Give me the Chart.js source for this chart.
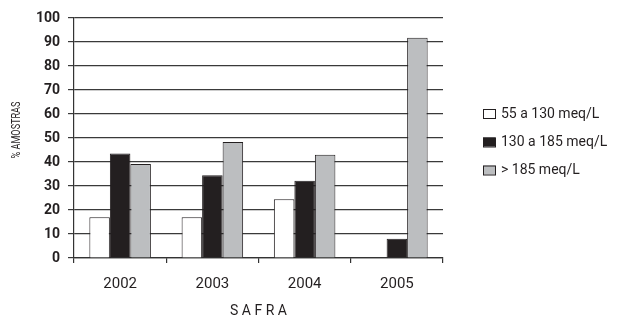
<!DOCTYPE html>
<html>
<head>
<meta charset="utf-8">
<script src="https://cdn.jsdelivr.net/npm/chart.js@4/dist/chart.umd.min.js"></script>
<style>
html,body{margin:0;padding:0;background:#fff;}
#wrap{width:617px;height:320px;}
</style>
</head>
<body>
<div id="wrap"><canvas id="c" width="617" height="320"></canvas></div>
<script>
const categories = ['2002', '2003', '2004', '2005'];
const seriesLabels = ['55 a 130 meq/L', '130 a 185 meq/L', '> 185 meq/L'];
const low = [17, 17, 24.5, 0];
const mid = [43.5, 34.5, 32.2, 8];
const high = [39.2, 48.3, 43, 91.8];
const yTicks = [0, 10, 20, 30, 40, 50, 60, 70, 80, 90, 100];
const xTitle = 'S A F R A';
const yTitle = '% AMOSTRAS';

const ink = '#231f20';
const colors = ['#ffffff', '#231f20', '#bcbec0'];

const legendPlugin = {
  id: 'sideLegend',
  afterDraw(chart) {
    const ctx = chart.ctx;
    ctx.save();
    const rows = [113.5, 142, 170];
    chart.data.datasets.forEach((ds, i) => {
      const y = rows[i];
      ctx.fillStyle = ds.backgroundColor;
      ctx.fillRect(483, y - 4.5, 12.5, 9);
      ctx.strokeStyle = ink;
      ctx.lineWidth = 1;
      ctx.strokeRect(483.5, y - 4, 12, 9);
      ctx.fillStyle = ink;
      ctx.font = '14px Roboto';
      ctx.textBaseline = 'middle';
      ctx.textAlign = 'left';
      ctx.fillText(ds.label, 501, y + 0.5);
    });
    // y axis title (condensed)
    ctx.translate(17, 130);
    ctx.rotate(-Math.PI / 2);
    ctx.scale(0.76, 1);
    ctx.font = '12px Roboto';
    ctx.textAlign = 'center';
    ctx.textBaseline = 'middle';
    ctx.fillStyle = ink;
    ctx.fillText(yTitle, 0, 0);
    ctx.restore();
  }
};

new Chart(document.getElementById('c'), {
  type: 'bar',
  data: {
    labels: categories,
    datasets: [
      { label: seriesLabels[0], data: low, backgroundColor: colors[0] },
      { label: seriesLabels[1], data: mid, backgroundColor: colors[1] },
      { label: seriesLabels[2], data: high, backgroundColor: colors[2] }
    ].map(d => Object.assign(d, { borderColor: ink, borderWidth: 1, categoryPercentage: 0.667, barPercentage: 1 }))
  },
  options: {
    responsive: false,
    animation: false,
    devicePixelRatio: 1,
    layout: { padding: { left: 0, right: 174, top: 18, bottom: 0 } },
    plugins: { legend: { display: false }, tooltip: { enabled: false } },
    scales: {
      x: {
        grid: { display: true, drawOnChartArea: false, drawTicks: true, tickLength: 5, color: '#333', lineWidth: 1.2, offset: true },
        border: { display: true, color: '#333', width: 1.2 },
        ticks: { color: ink, font: { family: 'Roboto', size: 15 }, padding: 12, maxRotation: 0 },
        title: { display: true, text: xTitle, color: ink, font: { family: 'Roboto', size: 14 }, padding: { top: 0, bottom: 0 } },
        afterFit(s) { s.height = 62; }
      },
      y: {
        min: 0, max: 100,
        afterBuildTicks(s) { s.ticks = yTicks.map(v => ({ value: v })); },
        grid: { color: '#3a3a3a', lineWidth: 1.2, drawTicks: true, tickLength: 6 },
        border: { display: true, color: '#333', width: 1.2 },
        ticks: { color: ink, font: { family: 'Roboto', size: 14, weight: 'bold' }, padding: 8 },
        afterFit(s) { s.width = 74; }
      }
    }
  },
  plugins: [legendPlugin]
});
</script>
</body>
</html>
